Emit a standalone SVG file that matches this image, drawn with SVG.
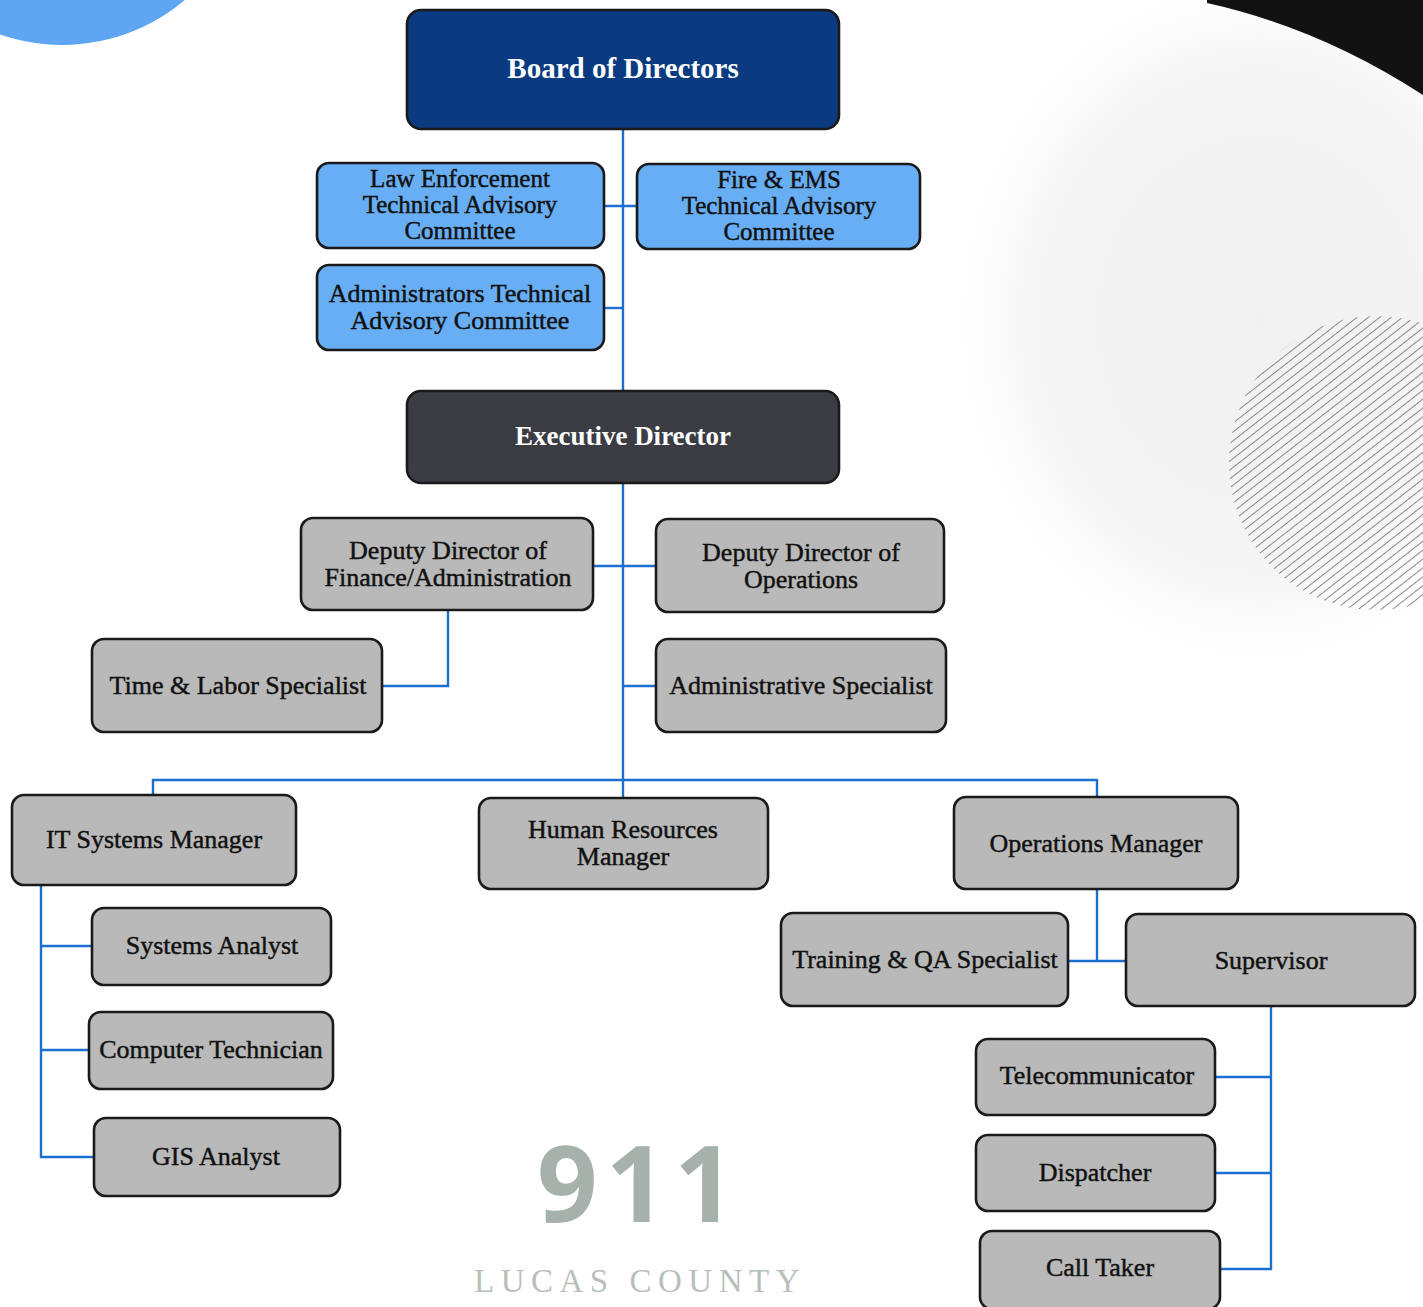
<svg xmlns="http://www.w3.org/2000/svg" width="1423" height="1307" viewBox="0 0 1423 1307">
<defs>
<pattern id="hatch" width="7" height="7" patternUnits="userSpaceOnUse" patternTransform="rotate(-38)">
<line x1="0" y1="0" x2="7" y2="0" stroke="#5a5a5a" stroke-width="1.4"/>
</pattern>
<radialGradient id="fade" cx="0.5" cy="0.5" r="0.5">
<stop offset="0" stop-color="#f1f1f1"/>
<stop offset="0.7" stop-color="#f4f4f4"/>
<stop offset="1" stop-color="#ffffff"/>
</radialGradient>
<style>
.box{stroke:#1a1a1a;stroke-width:2.6}
.blue{fill:#68aef4}
.gray{fill:#b9b9b9}
.t{font-family:"Liberation Serif","Times New Roman",serif;font-size:26px;fill:#111;stroke:#111;stroke-width:0.45;text-anchor:middle}
.t3{font-size:25px}
.tw{font-family:"Liberation Serif","Times New Roman",serif;font-weight:bold;fill:#fff;text-anchor:middle}
.c{fill:none;stroke:#1b6fd0;stroke-width:2.4}
</style>
</defs>
<rect width="1423" height="1307" fill="#fff"/>
<!-- background decorations -->
<circle cx="62" cy="-145" r="190" fill="#5ea6f2"/>
<ellipse cx="1260" cy="320" rx="300" ry="340" fill="url(#fade)"/>
<path d="M1207 0 H1423 V95 Q1320 28 1207 3 Z" fill="#121212"/>
<circle cx="1376" cy="463" r="147" fill="url(#hatch)"/>
<!-- logo -->
<text x="640" y="1222" font-family="'Open Sans','DejaVu Sans',sans-serif" font-weight="bold" font-size="106" fill="#a7b1ac" text-anchor="middle" letter-spacing="8">911</text>
<text x="640" y="1292" font-family="'Liberation Serif',serif" font-size="33" fill="#b8bfbb" text-anchor="middle" letter-spacing="6.5">LUCAS COUNTY</text>

<g id="connectors">
<path class="c" d="M623 129 V391"/>
<path class="c" d="M604 206 H637"/>
<path class="c" d="M604 308 H623"/>
<path class="c" d="M623 483 V780"/>
<path class="c" d="M593 566 H656"/>
<path class="c" d="M448 610 V686 H382"/>
<path class="c" d="M623 686 H656"/>
<path class="c" d="M153 795 V780 H1097 V797"/>
<path class="c" d="M623 780 V798"/>
<path class="c" d="M41 885 V1157 H94"/>
<path class="c" d="M41 946 H92"/>
<path class="c" d="M41 1050 H89"/>
<path class="c" d="M1097 889 V961"/>
<path class="c" d="M1068 961 H1126"/>
<path class="c" d="M1271 1006 V1269 H1220"/>
<path class="c" d="M1215 1077 H1271"/>
<path class="c" d="M1215 1173 H1271"/>
</g>

<g id="board"><rect class="box" x="407" y="10" width="432" height="119" rx="14" fill="#0a3a80"/><text class="tw" x="623" y="78" font-size="29">Board of Directors</text></g>
<g id="le-tac"><rect class="box blue" x="317" y="163" width="287" height="85" rx="12"/><text class="t t3" x="460" y="187">Law Enforcement</text><text class="t t3" x="460" y="213">Technical Advisory</text><text class="t t3" x="460" y="239">Committee</text></g>
<g id="fire-tac"><rect class="box blue" x="637" y="164" width="283" height="85" rx="12"/><text class="t t3" x="779" y="188">Fire &amp; EMS</text><text class="t t3" x="779" y="214">Technical Advisory</text><text class="t t3" x="779" y="240">Committee</text></g>
<g id="admin-tac"><rect class="box blue" x="317" y="265" width="287" height="85" rx="12"/><text class="t" x="460" y="302">Administrators Technical</text><text class="t" x="460" y="329">Advisory Committee</text></g>
<g id="exec"><rect class="box" x="407" y="391" width="432" height="92" rx="14" fill="#3c3d44"/><text class="tw" x="623" y="445" font-size="27">Executive Director</text></g>
<g id="dep-fin"><rect class="box gray" x="301" y="518" width="292" height="92" rx="12"/><text class="t" x="448" y="559">Deputy Director of</text><text class="t" x="448" y="586">Finance/Administration</text></g>
<g id="dep-ops"><rect class="box gray" x="656" y="519" width="288" height="93" rx="12"/><text class="t" x="801" y="561">Deputy Director of</text><text class="t" x="801" y="588">Operations</text></g>
<g id="time-labor"><rect class="box gray" x="92" y="639" width="290" height="93" rx="12"/><text class="t" x="238" y="694">Time &amp; Labor Specialist</text></g>
<g id="admin-spec"><rect class="box gray" x="656" y="639" width="290" height="93" rx="12"/><text class="t" x="801" y="694">Administrative Specialist</text></g>
<g id="it-mgr"><rect class="box gray" x="12" y="795" width="284" height="90" rx="12"/><text class="t" x="154" y="848">IT Systems Manager</text></g>
<g id="hr-mgr"><rect class="box gray" x="479" y="798" width="289" height="91" rx="12"/><text class="t" x="623" y="838">Human Resources</text><text class="t" x="623" y="865">Manager</text></g>
<g id="ops-mgr"><rect class="box gray" x="954" y="797" width="284" height="92" rx="12"/><text class="t" x="1096" y="852">Operations Manager</text></g>
<g id="sys-analyst"><rect class="box gray" x="92" y="908" width="239" height="77" rx="12"/><text class="t" x="212" y="954">Systems Analyst</text></g>
<g id="comp-tech"><rect class="box gray" x="89" y="1012" width="244" height="77" rx="12"/><text class="t" x="211" y="1058">Computer Technician</text></g>
<g id="gis"><rect class="box gray" x="94" y="1118" width="246" height="78" rx="12"/><text class="t" x="216" y="1165">GIS Analyst</text></g>
<g id="training"><rect class="box gray" x="781" y="913" width="287" height="93" rx="12"/><text class="t" x="925" y="968">Training &amp; QA Specialist</text></g>
<g id="supervisor"><rect class="box gray" x="1126" y="914" width="289" height="92" rx="12"/><text class="t" x="1271" y="969">Supervisor</text></g>
<g id="telecom"><rect class="box gray" x="976" y="1039" width="239" height="76" rx="12"/><text class="t" x="1097" y="1084">Telecommunicator</text></g>
<g id="dispatcher"><rect class="box gray" x="976" y="1135" width="239" height="76" rx="12"/><text class="t" x="1095" y="1181">Dispatcher</text></g>
<g id="call-taker"><rect class="box gray" x="980" y="1231" width="240" height="78" rx="12"/><text class="t" x="1100" y="1276">Call Taker</text></g>
</svg>
